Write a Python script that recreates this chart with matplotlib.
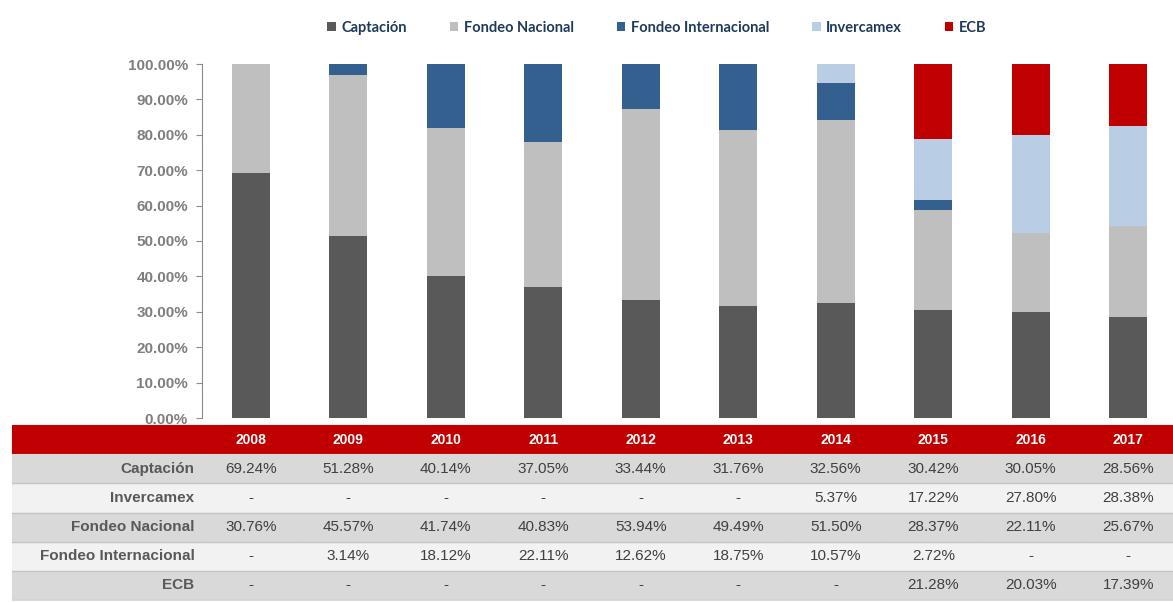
import matplotlib.pyplot as plt
from matplotlib.patches import Patch

years = ["2008", "2009", "2010", "2011", "2012", "2013", "2014", "2015", "2016", "2017"]

captacion = [69.24, 51.28, 40.14, 37.05, 33.44, 31.76, 32.56, 30.42, 30.05, 28.56]
invercamex = [None, None, None, None, None, None, 5.37, 17.22, 27.80, 28.38]
fondeo_nacional = [30.76, 45.57, 41.74, 40.83, 53.94, 49.49, 51.50, 28.37, 22.11, 25.67]
fondeo_internacional = [None, 3.14, 18.12, 22.11, 12.62, 18.75, 10.57, 2.72, None, None]
ecb = [None, None, None, None, None, None, None, 21.28, 20.03, 17.39]

y_ticks = [0, 10, 20, 30, 40, 50, 60, 70, 80, 90, 100]

# stacking order (bottom -> top) and table order differ
stack = [
    ("Captación", captacion, "#595959"),
    ("Fondeo Nacional", fondeo_nacional, "#BFBFBF"),
    ("Fondeo Internacional", fondeo_internacional, "#33608F"),
    ("Invercamex", invercamex, "#B9CDE5"),
    ("ECB", ecb, "#C00000"),
]
table_rows = [
    ("Captación", captacion),
    ("Invercamex", invercamex),
    ("Fondeo Nacional", fondeo_nacional),
    ("Fondeo Internacional", fondeo_internacional),
    ("ECB", ecb),
]

plt.rcParams['font.family'] = ['Liberation Sans', 'DejaVu Sans']

W, H = 1173, 603
fig = plt.figure(figsize=(W / 100, H / 100), dpi=100)

# --- bar chart ---
ax = fig.add_axes([202 / W, (H - 418) / H, 975 / W, 354 / H])
x = list(range(len(years)))
bottom = [0.0] * len(years)
for name, vals, color in stack:
    v = [0.0 if a is None else a for a in vals]
    ax.bar(x, v, width=0.39, bottom=bottom, color=color, label=name, linewidth=0)
    bottom = [b + a for b, a in zip(bottom, v)]

ax.set_xlim(-0.5, len(years) - 0.5)
ax.set_ylim(0, 100)
ax.set_yticks(y_ticks)
ax.set_yticklabels([f"{t:.2f}%" for t in y_ticks], fontsize=11, fontweight='bold', color='#7F7F7F')
ax.set_xticks([])
for s in ['top', 'right', 'bottom']:
    ax.spines[s].set_visible(False)
ax.spines['left'].set_color('#8C8C8C')
ax.tick_params(axis='y', length=4, color='#8C8C8C', pad=6)

# legend on top
handles = [Patch(facecolor=c, edgecolor='none') for _, _, c in stack]
labels = [n for n, _, _ in stack]
fig.legend(handles, labels, loc='center', bbox_to_anchor=(657 / W, 1 - 28 / H), ncol=5,
           frameon=False, handlelength=0.6, handleheight=0.6, handletextpad=0.4, columnspacing=2.9,
           prop={'family': 'Lato', 'weight': 'bold', 'size': 10.5}, labelcolor='#1F3B5C')

# --- data table ---
tax = fig.add_axes([12 / W, 3 / H, 1165 / W, 175 / H])
tax.axis('off')


def fmt(v):
    return "-" if v is None else f"{v:.2f}%"


cell_text = [[""] + years] + [[name] + [fmt(v) for v in vals] for name, vals in table_rows]
col_w = [190] + [97.5] * len(years)
tot = sum(col_w)
table = tax.table(cellText=cell_text, colWidths=[c / tot for c in col_w],
                  cellLoc='center', loc='center', bbox=[0, 0, 1, 1])
table.auto_set_font_size(False)
table.set_fontsize(11)

n_rows = len(cell_text)
for (row, col), cell in table.get_celld().items():
    cell.set_linewidth(0.8)
    if row == 0:
        cell.set_facecolor('#C00000')
        cell.set_edgecolor('#C00000')
        cell.set_text_props(color='white', fontweight='bold', fontsize=10)
    else:
        fc = '#D9D9D9' if row % 2 == 1 else '#F2F2F2'
        cell.set_facecolor(fc)
        cell.set_edgecolor(fc)
        cell.set_text_props(color='#404040')
        if col == 0:
            cell.set_text_props(fontweight='bold', color='#595959', ha='right')
            cell._loc = 'right'
            cell.PAD = 0.04

# thin horizontal separators between body rows
for i in range(0, n_rows - 1):
    tax.axhline(i / n_rows, color='#C4C4C4', linewidth=1.0, zorder=5)

fig.savefig("out.png", dpi=100, facecolor='white')
